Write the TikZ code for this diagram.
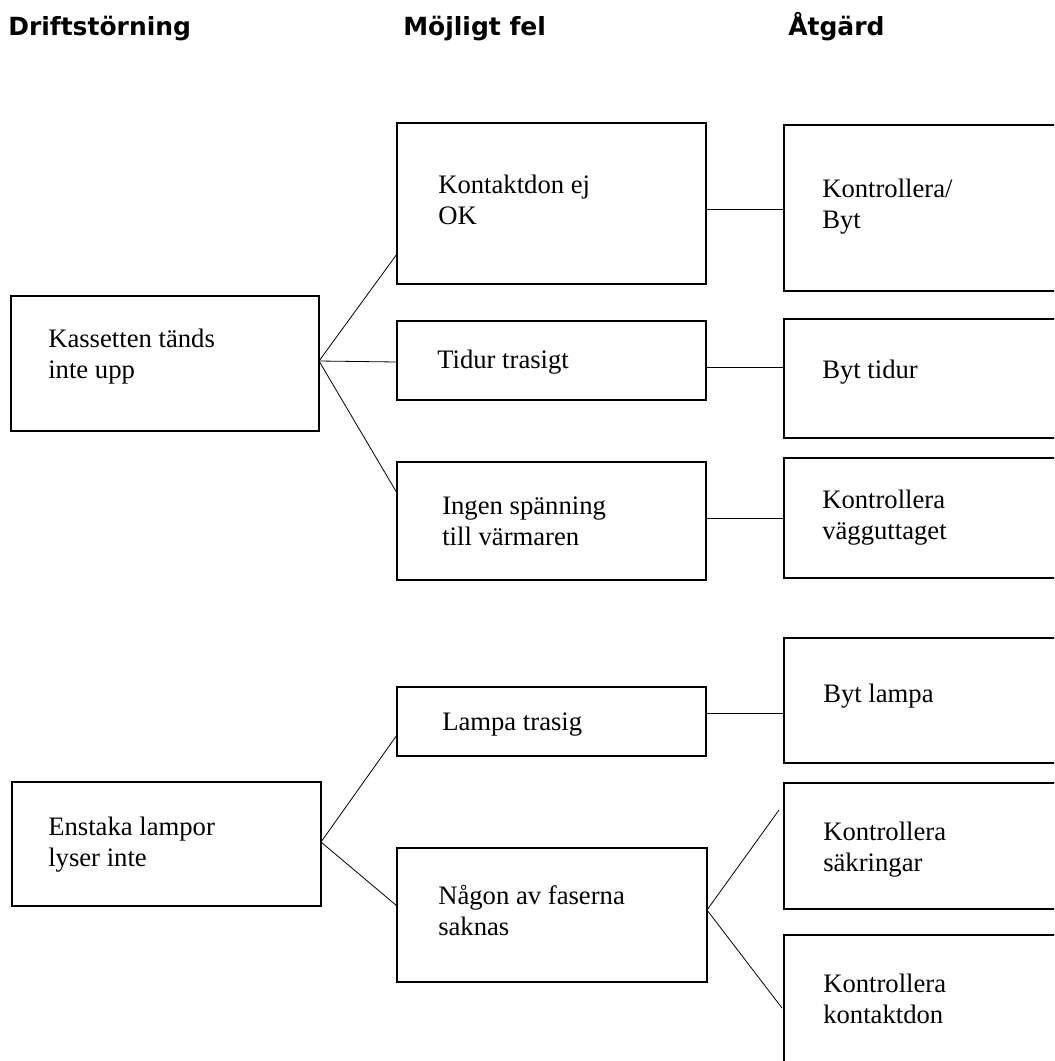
\documentclass[tikz,border=0pt]{standalone}
\usepackage{fontspec}
\setmainfont{Liberation Serif}
\newfontfamily\headfont{DejaVu Sans}
\begin{document}
\begin{tikzpicture}[x=0.75pt, y=-0.75pt,
		box/.style 2 args={draw, line width=0.9pt, inner sep=0pt, outer sep=0pt, anchor=north west,
			minimum width=#1*0.75pt, minimum height=#2*0.75pt},
		txt/.style={anchor=base west, inner sep=0pt, align=left, font=\fontsize{20}{23.25}\selectfont},
		head/.style={anchor=base west, inner sep=0pt, font={\headfont\fontsize{18.75}{22}\selectfont\bfseries}},
		con/.style={line width=0.6pt}]
		\useasboundingbox (0,0) rectangle (1054,1061);
		\clip (0,0) rectangle (1054,1061);

		\node[head] (HD) at (8, 35) {Driftstörning};
		\node[head] (HM) at (403, 35) {Möjligt fel};
		\node[head] (HA) at (788, 35) {Åtgärd};

		% kassetten
		\node[box={308}{135}] (KT) at (11, 296) {};
		\node[box={309}{161}] (KO) at (397, 123) {};
		\node[box={309}{79}] (TT) at (397, 321) {};
		\node[box={309}{118}] (IS) at (397, 462) {};
		\node[box={320}{166}] (KB) at (784, 125) {};
		\node[box={320}{119}] (BT) at (784, 319) {};
		\node[box={320}{120}] (KV) at (784, 458) {};

		% lampor
		\node[box={309}{124}] (EL) at (12, 782) {};
		\node[box={309}{69}] (LT) at (397, 687) {};
		\node[box={310}{134}] (NF) at (397, 848) {};
		\node[box={320}{125}] (BL) at (784, 638) {};
		\node[box={320}{126}] (KS) at (784, 783) {};
		\node[box={320}{170}] (KK) at (784, 935) {};

		% texts, base = last line
		\node[txt] (KTt) at (48, 378) {Kassetten tänds\\inte upp};
		\node[txt] (KOt) at (438, 224) {Kontaktdon ej\\OK};
		\node[txt] (TTt) at (437, 368) {Tidur trasigt};
		\node[txt] (ISt) at (442, 545) {Ingen spänning\\till värmaren};
		\node[txt] (KBt) at (822, 228) {Kontrollera/\\Byt};
		\node[txt] (BTt) at (822, 378) {Byt tidur};
		\node[txt] (KVt) at (822, 539) {Kontrollera\\vägguttaget};
		\node[txt] (ELt) at (48, 866) {Enstaka lampor\\lyser inte};
		\node[txt] (LTt) at (442, 730) {Lampa trasig};
		\node[txt] (NFt) at (438, 935) {Någon av faserna\\saknas};
		\node[txt] (BLt) at (823, 702) {Byt lampa};
		\node[txt] (KSt) at (823, 871) {Kontrollera\\säkringar};
		\node[txt] (KKt) at (823, 1023) {Kontrollera\\kontaktdon};

		\coordinate (KSe) at (779, 810);
		\coordinate (KKe) at (782, 1008);

		\draw[con] (KT.east |- 0,361) -- (KO.west |- 0,254);
		\draw[con] (KT.east |- 0,361) -- (TT.west |- 0,362);
		\draw[con] (KT.east |- 0,361) -- (IS.west |- 0,493);
		\draw[con] (KO.east |- 0,209) -- (KB.west |- 0,209);
		\draw[con] (TT.east |- 0,367) -- (BT.west |- 0,367);
		\draw[con] (IS.east |- 0,518) -- (KV.west |- 0,518);
		\draw[con] (EL.east |- 0,842) -- (LT.west |- 0,735);
		\draw[con] (EL.east |- 0,842) -- (NF.west |- 0,906);
		\draw[con] (LT.east |- 0,713) -- (BL.west |- 0,713);
		\draw[con] (NF.east |- 0,910) -- (KSe);
		\draw[con] (NF.east |- 0,910) -- (KKe);

	\end{tikzpicture}
\end{document}
